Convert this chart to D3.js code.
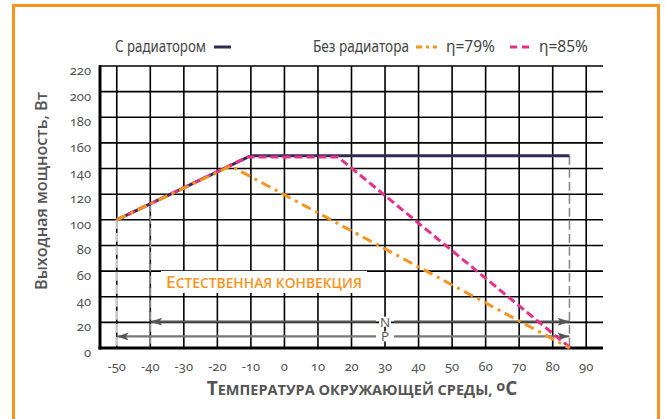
<!DOCTYPE html>
<html>
<head>
<meta charset="utf-8">
<script src="https://cdn.jsdelivr.net/npm/d3@7"></script>
<style>
  body { margin: 0; background: #fff; }
  svg { display: block; }
</style>
</head>
<body>
<script>
// chart values
var xTicks = [-50, -40, -30, -20, -10, 0, 10, 20, 30, 40, 50, 60, 70, 80, 90];
var yTicks = [0, 20, 40, 60, 80, 100, 120, 140, 160, 180, 200, 220];

var radTemp = [-50, -10, 85];
var radPower = [100, 150, 150];
var eta79Temp = [-50, -16, 85];
var eta79Power = [100, 142, 0];
var eta85Temp = [-50, -11, 16, 85.3];
var eta85Power = [100, 149, 149, 0];

// vertical limit markers [temp, top power]
var limitTemp = [-50, -40, 85];
var limitPower = [100, 112.5, 150];

// range arrows
var rangeNames = ["N", "P"];
var rangeFrom = [-40, -50];
var rangeTo = [85, 85];
var rangeLevel = [20.5, 9];
var rangeLabelAt = 30;

var width = 666, height = 419;

var svg = d3.select("body").append("svg")
    .attr("width", width)
    .attr("height", height);

// orange frame
svg.append("rect")
    .attr("x", 13.5).attr("y", 5.5)
    .attr("width", 645).attr("height", 430)
    .attr("fill", "none")
    .attr("stroke", "#f7941d")
    .attr("stroke-width", 3);

var x = d3.scaleLinear().domain([-55, 95]).range([100, 603]);
var y = d3.scaleLinear().domain([0, 220]).range([348, 66]);

var grey = "#555";
var numFont = "'Noto Sans', sans-serif";

// grid
var grid = svg.append("g");
grid.selectAll("line.h")
    .data(yTicks.filter(function(d) { return d > 0; }))
    .enter().append("line")
    .attr("x1", x.range()[0]).attr("x2", x.range()[1])
    .attr("y1", function(d) { return y(d); })
    .attr("y2", function(d) { return y(d); })
    .attr("stroke", "#000").attr("stroke-width", 1.6);
grid.selectAll("line.v")
    .data(xTicks)
    .enter().append("line")
    .attr("x1", function(d) { return x(d); })
    .attr("x2", function(d) { return x(d); })
    .attr("y1", y(220)).attr("y2", y(0))
    .attr("stroke", "#000").attr("stroke-width", 1.6);

// axes frame (left and bottom, heavy)
svg.append("line")
    .attr("x1", x.range()[0]).attr("x2", x.range()[0])
    .attr("y1", y(220) - 0.8).attr("y2", y(0) + 1.5)
    .attr("stroke", "#000").attr("stroke-width", 3);
svg.append("line")
    .attr("x1", x.range()[0] - 1.5).attr("x2", x.range()[1])
    .attr("y1", y(0)).attr("y2", y(0))
    .attr("stroke", "#000").attr("stroke-width", 3);

// tick labels
svg.append("g").selectAll("text")
    .data(yTicks)
    .enter().append("text")
    .attr("x", 91)
    .attr("y", function(d) { return y(d) + 9; })
    .attr("text-anchor", "end")
    .style("font-family", numFont)
    .style("font-size", "13px")
    .style("font-variant-numeric", "oldstyle-nums")
    .attr("fill", grey)
    .text(function(d) { return d; });

svg.append("g").selectAll("text")
    .data(xTicks)
    .enter().append("text")
    .attr("x", function(d) { return x(d); })
    .attr("y", 371)
    .attr("text-anchor", "middle")
    .style("font-family", numFont)
    .style("font-size", "13px")
    .style("font-variant-numeric", "oldstyle-nums")
    .attr("fill", grey)
    .text(function(d) { return d; });

// limit dashed verticals
var limitStyle = [
    {c: "#c8c8c8", w: 2.5, d: "9,4"},
    {c: "#888", w: 1.4, d: "8,4"},
    {c: "#888", w: 1.6, d: "9,4"}
];
limitTemp.forEach(function(t, i) {
    svg.append("line")
        .attr("x1", x(t)).attr("x2", x(t))
        .attr("y1", y(limitPower[i])).attr("y2", y(0))
        .attr("stroke", limitStyle[i].c)
        .attr("stroke-width", limitStyle[i].w)
        .attr("stroke-dasharray", limitStyle[i].d);
});

// label "Естественная конвекция"
svg.append("rect")
    .attr("x", 161).attr("y", 271)
    .attr("width", 206).attr("height", 22)
    .attr("fill", "#fff");
var conv = svg.append("text")
    .attr("x", 166).attr("y", 288)
    .style("font-family", "'Open Sans', sans-serif")
    .style("font-weight", "600")
    .attr("fill", "#f7941d")
    .attr("textLength", 196)
    .attr("lengthAdjust", "spacingAndGlyphs");
conv.append("tspan").style("font-size", "17px").text("Е");
conv.append("tspan").style("font-size", "13.5px").text("СТЕСТВЕННАЯ КОНВЕКЦИЯ");

// arrows
var defs = svg.append("defs");
defs.append("marker")
    .attr("id", "arr")
    .attr("viewBox", "0 0 12 8")
    .attr("refX", 12).attr("refY", 4)
    .attr("markerWidth", 12).attr("markerHeight", 8)
    .attr("markerUnits", "userSpaceOnUse")
    .attr("orient", "auto-start-reverse")
    .append("path")
    .attr("d", "M0,0 L12,4 L0,8 L3,4 z")
    .attr("fill", "#555");

var rangeColor = ["#555", "#777"];
rangeNames.forEach(function(n, i) {
    var yy = y(rangeLevel[i]);
    svg.append("line")
        .attr("x1", x(rangeFrom[i])).attr("x2", x(rangeLabelAt) - 9)
        .attr("y1", yy).attr("y2", yy)
        .attr("stroke", rangeColor[i]).attr("stroke-width", 2.2)
        .attr("marker-start", "url(#arr)");
    svg.append("line")
        .attr("x1", x(rangeLabelAt) + 9).attr("x2", x(rangeTo[i]))
        .attr("y1", yy).attr("y2", yy)
        .attr("stroke", rangeColor[i]).attr("stroke-width", 2.2)
        .attr("marker-end", "url(#arr)");
    svg.append("rect")
        .attr("x", x(rangeLabelAt) - 6).attr("y", yy - 5)
        .attr("width", 12).attr("height", 10)
        .attr("fill", "#fff");
    svg.append("text")
        .attr("x", x(rangeLabelAt)).attr("y", yy + 5)
        .attr("text-anchor", "middle")
        .style("font-family", "'Open Sans', sans-serif")
        .style("font-size", "13.5px")
        .attr("fill", "#555")
        .text(n);
});

// series lines
var line = d3.line()
    .x(function(d) { return x(d[0]); })
    .y(function(d) { return y(d[1]); });

function pts(t, p) { return t.map(function(v, i) { return [v, p[i]]; }); }

svg.append("path")
    .datum(pts(radTemp, radPower))
    .attr("d", line)
    .attr("fill", "none")
    .attr("stroke", "#2e2c4f")
    .attr("stroke-width", 3);

svg.append("path")
    .datum(pts(eta85Temp, eta85Power))
    .attr("d", line)
    .attr("fill", "none")
    .attr("stroke", "#e8308a")
    .attr("stroke-width", 3)
    .attr("stroke-dasharray", "8,4");

svg.append("path")
    .datum(pts(eta79Temp, eta79Power))
    .attr("d", line)
    .attr("fill", "none")
    .attr("stroke", "#f7941d")
    .attr("stroke-width", 3)
    .attr("stroke-dasharray", "10,5,3,5");

// legend
var legFont = "'Noto Sans', sans-serif";
function legText(xp, s, len) {
    svg.append("text")
        .attr("x", xp).attr("y", 52)
        .style("font-family", legFont)
        .style("font-size", "16px")
        .attr("fill", "#444")
        .attr("textLength", len)
        .attr("lengthAdjust", "spacingAndGlyphs")
        .text(s);
}
legText(115, "С радиатором", 91);
svg.append("line")
    .attr("x1", 214).attr("x2", 231).attr("y1", 47).attr("y2", 47)
    .attr("stroke", "#2e2c4f").attr("stroke-width", 3);
legText(313, "Без радиатора", 96);
svg.append("line")
    .attr("x1", 416).attr("x2", 437).attr("y1", 47).attr("y2", 47)
    .attr("stroke", "#f7941d").attr("stroke-width", 3)
    .attr("stroke-dasharray", "6,4,3,4");
legText(446, "η=79%", 49);
svg.append("line")
    .attr("x1", 510).attr("x2", 530).attr("y1", 47).attr("y2", 47)
    .attr("stroke", "#e8308a").attr("stroke-width", 3)
    .attr("stroke-dasharray", "7,5");
legText(539, "η=85%", 49);

// axis titles
var xt = svg.append("text")
    .attr("x", 362).attr("y", 395)
    .attr("text-anchor", "middle")
    .style("font-family", "'Open Sans', sans-serif")
    .style("font-weight", "700")
    .attr("fill", grey);
xt.append("tspan").style("font-size", "19px").text("Т");
xt.append("tspan").style("font-size", "14.5px").text("ЕМПЕРАТУРА ОКРУЖАЮЩЕЙ СРЕДЫ, ");
xt.append("tspan").style("font-size", "14.5px").attr("dy", -4).text("о");
xt.append("tspan").style("font-size", "19px").attr("dy", 4).text("С");

svg.append("text")
    .attr("transform", "translate(47,191) rotate(-90)")
    .attr("text-anchor", "middle")
    .style("font-family", "'Open Sans', sans-serif")
    .style("font-weight", "600")
    .style("font-size", "17px")
    .attr("fill", grey)
    .attr("textLength", 198)
    .attr("lengthAdjust", "spacingAndGlyphs")
    .text("Выходная мощность, Вт");
</script>
</body>
</html>
